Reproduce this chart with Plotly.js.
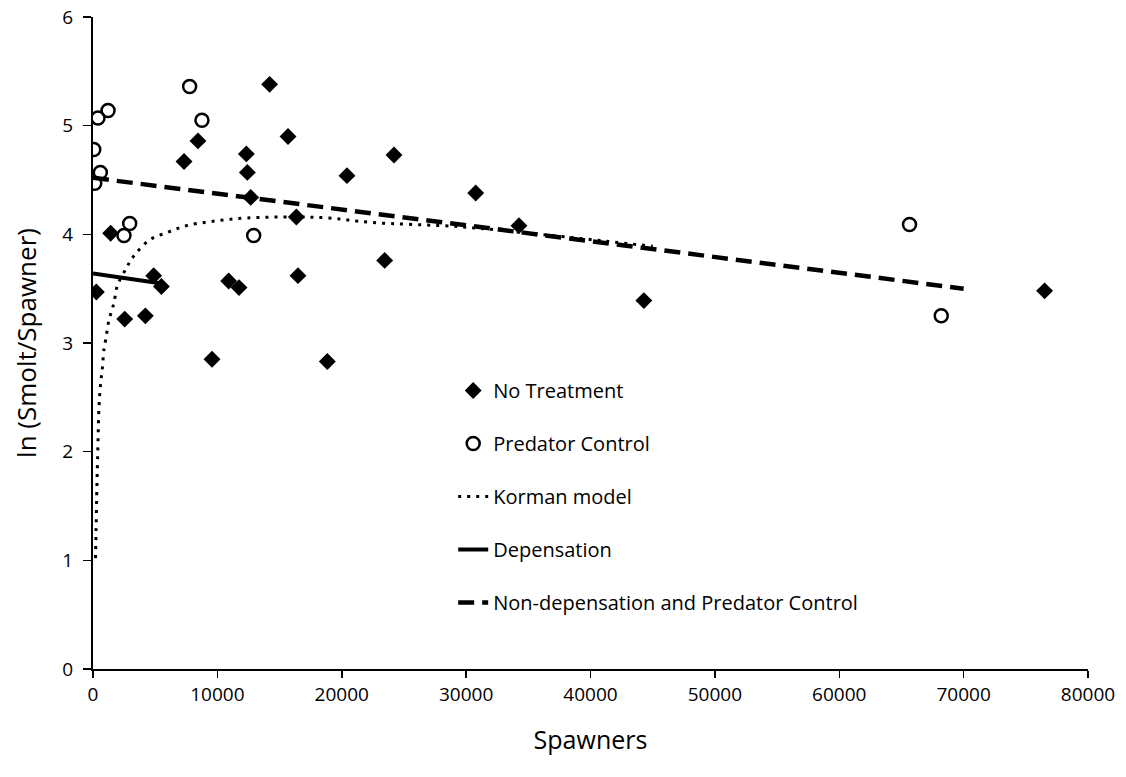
<!DOCTYPE html>
<html>
<head>
<meta charset="utf-8">
<script src="https://cdn.plot.ly/plotly-3.0.1.min.js"></script>
<style>html,body{margin:0;padding:0;background:#fff;}#chart{width:1126px;height:777px;}</style>
</head>
<body>
<div id="chart"></div>
<script>
// No Treatment (diamonds)
const noTreatX = [270, 1420, 2550, 4210, 4880, 5500, 7320, 8440, 9570, 10910, 11740, 12330, 12410, 12680, 14200, 15680, 16350, 16480, 18840, 20420, 23450, 24200, 30770, 34250, 44290, 76510];
const noTreatY = [3.47, 4.01, 3.22, 3.25, 3.62, 3.52, 4.67, 4.86, 2.85, 3.57, 3.51, 4.74, 4.57, 4.34, 5.38, 4.90, 4.16, 3.62, 2.83, 4.54, 3.76, 4.73, 4.38, 4.08, 3.39, 3.48];

// Predator Control (open circles)
const predX = [60, 140, 400, 590, 1210, 2490, 2950, 7770, 8760, 12920, 65650, 68200];
const predY = [4.78, 4.47, 5.07, 4.57, 5.14, 3.99, 4.10, 5.36, 5.05, 3.99, 4.09, 3.25];

// Korman model curve
const kormanX = [200, 250, 300, 350, 400, 480, 600, 760, 890, 1020, 1260, 1480, 1690, 1960, 2690, 3030, 3490, 4560, 6030, 7510, 9650, 12330, 16080, 19000, 22300, 29500, 35100, 41000, 45000];
const kormanY = [1.02, 1.30, 1.60, 1.85, 2.08, 2.41, 2.61, 2.78, 2.95, 3.03, 3.20, 3.29, 3.37, 3.53, 3.69, 3.76, 3.83, 3.95, 4.02, 4.08, 4.12, 4.15, 4.16, 4.15, 4.11, 4.07, 4.01, 3.94, 3.89];

// Depensation line
const depX = [0, 5400];
const depY = [3.64, 3.55];

// Non-depensation and Predator Control line
const nonDepX = [0, 70000];
const nonDepY = [4.52, 3.50];

const xTicks = [0, 10000, 20000, 30000, 40000, 50000, 60000, 70000, 80000];
const yTicks = [0, 1, 2, 3, 4, 5, 6];

const FONT = 'Open Sans, Liberation Sans, sans-serif';

const traces = [
  {x: noTreatX, y: noTreatY, type: 'scatter', mode: 'markers', name: 'No Treatment', legendgroup: 'a',
   marker: {symbol: 'diamond', size: 13, color: '#000'}},
  {x: predX, y: predY, type: 'scatter', mode: 'markers', name: 'Predator Control', legendgroup: 'b',
   marker: {symbol: 'circle-open', size: 13, color: '#000', line: {width: 2.5, color: '#000'}}},
  {x: kormanX, y: kormanY, type: 'scatter', mode: 'lines', name: 'Korman model', legendgroup: 'c',
   line: {color: '#000', width: 3, dash: '3px,6px', shape: 'spline'}},
  {x: depX, y: depY, type: 'scatter', mode: 'lines', name: 'Depensation', legendgroup: 'd',
   line: {color: '#000', width: 4}},
  {x: nonDepX, y: nonDepY, type: 'scatter', mode: 'lines', name: 'Non-depensation and Predator Control', legendgroup: 'e',
   line: {color: '#000', width: 4.5, dash: '16px,8px'}}
];

const layout = {
  width: 1126, height: 777,
  margin: {l: 93, r: 38, t: 17, b: 108},
  paper_bgcolor: '#fff', plot_bgcolor: '#fff',
  font: {family: FONT, color: '#000', size: 19},
  showlegend: true,
  legend: {x: 0.362, y: 0.457, xanchor: 'left', yanchor: 'top', bgcolor: 'rgba(0,0,0,0)',
           font: {family: FONT, size: 20, color: '#000'}, traceorder: 'grouped', tracegroupgap: 24},
  xaxis: {range: [0, 80000], tickvals: xTicks, ticktext: xTicks.map(String), showgrid: false, zeroline: false,
          showline: true, linecolor: '#000', linewidth: 2, ticks: 'outside', ticklen: 7, tickwidth: 1.5, tickcolor: '#000',
          tickfont: {size: 19}, title: {text: 'Spawners', font: {size: 25}, standoff: 26}},
  yaxis: {range: [0, 6], tickvals: yTicks, showgrid: false, zeroline: false,
          showline: true, linecolor: '#000', linewidth: 2, ticks: 'outside', ticklen: 8, tickwidth: 1.5, tickcolor: '#000',
          ticklabelstandoff: 6,
          tickfont: {size: 19}, title: {text: 'ln (Smolt/Spawner)', font: {size: 26}, standoff: 18}}
};

Plotly.newPlot('chart', traces, layout, {displayModeBar: false, staticPlot: true});
</script>
</body>
</html>
